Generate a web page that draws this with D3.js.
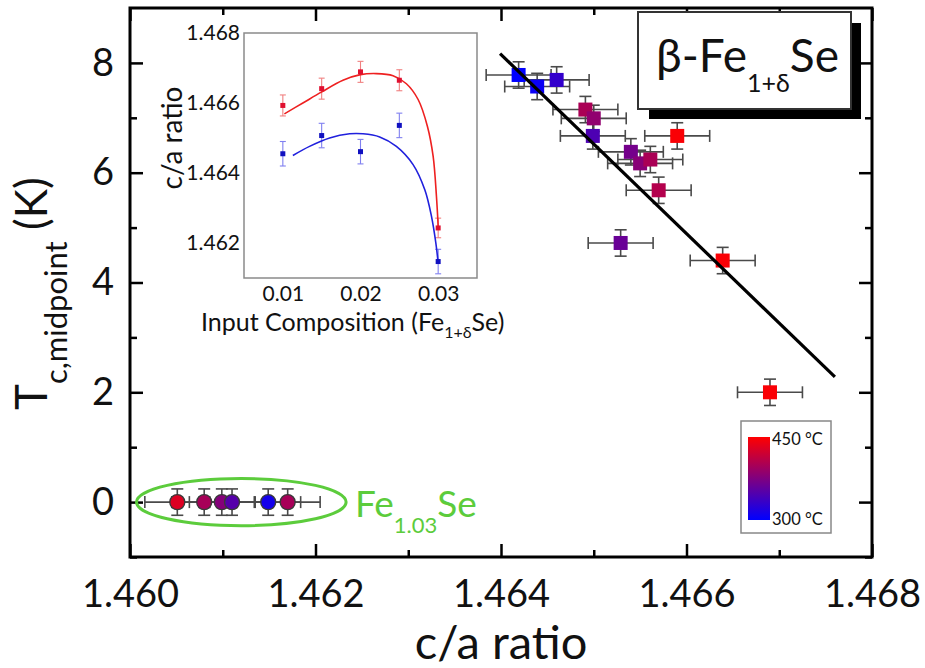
<!DOCTYPE html>
<html><head><meta charset="utf-8">
<script src="https://cdn.jsdelivr.net/npm/d3@7"></script>
<style>
html,body{margin:0;padding:0;background:#fff;}
svg{display:block;font-family:Lato,"Open Sans",sans-serif;}
</style></head>
<body>
<svg id="chart" width="925" height="668"></svg>
<script>
// ---------- data (main plot) ----------
const xTicksMain = [1.460, 1.462, 1.464, 1.466, 1.468];
const yTicksMain = [0, 2, 4, 6, 8];
// beta-Fe(1+d)Se squares
const sqCA   = [1.46419, 1.46439, 1.46460, 1.46491, 1.46500, 1.46499, 1.46590, 1.46540, 1.46550, 1.46561, 1.46570, 1.46529, 1.46639, 1.46690];
const sqTc   = [7.78, 7.57, 7.69, 7.15, 6.99, 6.67, 6.67, 6.38, 6.17, 6.24, 5.68, 4.72, 4.40, 2.00];
const sqTemp = [300, 306, 330, 400, 385, 345, 447, 368, 380, 400, 405, 362, 447, 447];
const sqCAerr = [0.00035,0.00035,0.00035,0.00035,0.00035,0.00035,0.00035,0.00035,0.00035,0.00035,0.00035,0.00035,0.00035,0.00035];
const sqTcErr = [0.24,0.24,0.24,0.24,0.24,0.24,0.24,0.24,0.24,0.24,0.24,0.24,0.24,0.24];
// Fe1.03Se circles
const ciCA   = [1.46051, 1.46080, 1.46099, 1.46110, 1.46149, 1.46170];
const ciTc   = [0, 0, 0, 0, 0, 0];
const ciTemp = [430, 398, 378, 350, 312, 398];
const ciCAerr = [0.00035,0.00035,0.00035,0.00035,0.00035,0.00035];
const ciTcErr = [0.24,0.24,0.24,0.24,0.24,0.24];
// linear fit
const fitCA = [1.46399, 1.46760];
const fitTc = [8.17, 2.28];
// ellipse around Fe1.03Se (data units)
const ellCA = [1.46007, 1.46233];
const ellTc = [-0.43, 0.43];
// colour scale
const tempRange = [300, 450];

// ---------- data (inset) ----------
const insetXTicks = [0.01, 0.02, 0.03];
const insetYTicks = [1.462, 1.464, 1.466, 1.468];
const insetComp = [0.010, 0.015, 0.020, 0.025, 0.030];
const insetRed  = [1.46593, 1.46641, 1.46689, 1.46665, 1.46243];
const insetBlue = [1.46455, 1.46507, 1.46461, 1.46536, 1.46147];
const insetRedErr  = [0.00030, 0.00030, 0.00030, 0.00030, 0.00028];
const insetBlueErr = [0.00035, 0.00035, 0.00035, 0.00035, 0.00035];
const redCurveX  = [0.0102, 0.01258, 0.01495, 0.01774, 0.0200, 0.02204, 0.02419, 0.02591, 0.02742, 0.02862, 0.02935, 0.02978, 0.0300];
const redCurveY  = [1.46569, 1.46600, 1.46631, 1.46665, 1.46681, 1.46684, 1.46678, 1.46655, 1.46610, 1.46533, 1.46448, 1.46333, 1.46248];
const blueCurveX = [0.01129, 0.01344, 0.01602, 0.0186, 0.02032, 0.02247, 0.02462, 0.02677, 0.02828, 0.02914, 0.0297, 0.0300];
const blueCurveY = [1.46450, 1.46476, 1.46500, 1.46512, 1.46512, 1.46503, 1.46476, 1.46424, 1.46352, 1.46276, 1.46200, 1.46143];

// ---------- layout ----------
const svg = d3.select("#chart");
const L = 130, R = 872, T = 8, B = 557;
const x = d3.scaleLinear().domain([1.460, 1.468]).range([L, R]);
const y = d3.scaleLinear().domain([-1, 9]).range([B, T]);
const col = d3.scaleLinear().domain(tempRange).range(["#0000ff", "#ff0000"]);
const FONT = 'Lato,"Open Sans",sans-serif';

// minor ticks
const xMinor = d3.range(1.461, 1.468, 0.002);
const yMinor = [-1, 1, 3, 5, 7];

function styleAxis(g){ g.select(".domain").remove(); g.selectAll("line").attr("stroke","#000").attr("stroke-width",2.5); }

// bottom
svg.append("g").attr("transform",`translate(0,${B})`)
  .call(d3.axisBottom(x).tickValues(xTicksMain).tickSize(-13).tickPadding(23).tickFormat(d3.format(".3f")))
  .call(styleAxis)
  .call(g=>g.selectAll("text").attr("font-size",38).attr("font-family",FONT).attr("fill","#111"));
svg.append("g").attr("transform",`translate(0,${B})`)
  .call(d3.axisBottom(x).tickValues(xMinor).tickSize(-7).tickFormat("")).call(styleAxis);
// top
svg.append("g").attr("transform",`translate(0,${T})`)
  .call(d3.axisTop(x).tickValues(xTicksMain).tickSize(-13).tickFormat("")).call(styleAxis);
svg.append("g").attr("transform",`translate(0,${T})`)
  .call(d3.axisTop(x).tickValues(xMinor).tickSize(-7).tickFormat("")).call(styleAxis);
// left
svg.append("g").attr("transform",`translate(${L},0)`)
  .call(d3.axisLeft(y).tickValues(yTicksMain).tickSize(-13).tickPadding(16))
  .call(styleAxis)
  .call(g=>g.selectAll("text").attr("font-size",38).attr("font-family",FONT).attr("fill","#111"));
svg.append("g").attr("transform",`translate(${L},0)`)
  .call(d3.axisLeft(y).tickValues(yMinor).tickSize(-7).tickFormat("")).call(styleAxis);
// right
svg.append("g").attr("transform",`translate(${R},0)`)
  .call(d3.axisRight(y).tickValues(yTicksMain).tickSize(-13).tickFormat("")).call(styleAxis);
svg.append("g").attr("transform",`translate(${R},0)`)
  .call(d3.axisRight(y).tickValues(yMinor).tickSize(-7).tickFormat("")).call(styleAxis);

// frame
svg.append("rect").attr("x",L).attr("y",T).attr("width",R-L).attr("height",B-T)
  .attr("fill","none").attr("stroke","#000").attr("stroke-width",3);

// axis titles
svg.append("text").attr("x",(L+R)/2).attr("y",659).attr("text-anchor","middle")
  .attr("font-size",47).attr("font-family",FONT).attr("fill","#111").text("c/a ratio");
const yt = svg.append("text").attr("transform","translate(47,410) rotate(-90)")
  .attr("font-family",FONT).attr("fill","#111");
yt.append("tspan").attr("font-size",44).text("T");
yt.append("tspan").attr("font-size",31).attr("dy",20).text("c,midpoint");
yt.append("tspan").attr("font-size",44).attr("dy",-20).text(" (K)");

// ---------- error bars ----------
function errorBars(g, xs, ys, xe, ye, sx, sy, stroke, sw, cap){
  xs.forEach((cx,i)=>{
    const px = sx(cx), py = sy(ys[i]);
    const x0 = sx(cx - xe[i]), x1 = sx(cx + xe[i]);
    const y0 = sy(ys[i] - ye[i]), y1 = sy(ys[i] + ye[i]);
    const gg = g.append("g").attr("stroke",stroke).attr("stroke-width",sw).attr("fill","none");
    if (xe[i] > 0){
      gg.append("line").attr("x1",x0).attr("x2",x1).attr("y1",py).attr("y2",py);
      gg.append("line").attr("x1",x0).attr("x2",x0).attr("y1",py-cap).attr("y2",py+cap);
      gg.append("line").attr("x1",x1).attr("x2",x1).attr("y1",py-cap).attr("y2",py+cap);
    }
    gg.append("line").attr("x1",px).attr("x2",px).attr("y1",y0).attr("y2",y1);
    gg.append("line").attr("x1",px-cap).attr("x2",px+cap).attr("y1",y0).attr("y2",y0);
    gg.append("line").attr("x1",px-cap).attr("x2",px+cap).attr("y1",y1).attr("y2",y1);
  });
}
const gErr = svg.append("g");
errorBars(gErr, sqCA, sqTc, sqCAerr, sqTcErr, x, y, "#4a4a4a", 1.6, 6);
errorBars(gErr, ciCA, ciTc, ciCAerr, ciTcErr, x, y, "#4a4a4a", 1.6, 6);

// squares
const sqSize = 14;
svg.append("g").selectAll("rect").data(sqCA).join("rect")
  .attr("x",(d)=>x(d)-sqSize/2).attr("y",(d,i)=>y(sqTc[i])-sqSize/2)
  .attr("width",sqSize).attr("height",sqSize)
  .attr("fill",(d,i)=>col(sqTemp[i]));
// circles
svg.append("g").selectAll("circle").data(ciCA).join("circle")
  .attr("cx",d=>x(d)).attr("cy",(d,i)=>y(ciTc[i])).attr("r",7.5)
  .attr("fill",(d,i)=>col(ciTemp[i])).attr("stroke","#3a3a3a").attr("stroke-width",1.4);

// fit line
svg.append("line").attr("x1",x(fitCA[0])).attr("y1",y(fitTc[0]))
  .attr("x2",x(fitCA[1])).attr("y2",y(fitTc[1]))
  .attr("stroke","#000").attr("stroke-width",3.2);

// ellipse
svg.append("ellipse")
  .attr("cx",x((ellCA[0]+ellCA[1])/2)).attr("cy",y((ellTc[0]+ellTc[1])/2))
  .attr("rx",(x(ellCA[1])-x(ellCA[0]))/2).attr("ry",(y(ellTc[0])-y(ellTc[1]))/2)
  .attr("fill","none").attr("stroke","#5ccc3c").attr("stroke-width",3);
// Fe1.03Se label
const fe = svg.append("text").attr("x",355).attr("y",517).attr("font-family",FONT).attr("fill","#5ccc3c");
fe.append("tspan").attr("font-size",37).text("Fe");
fe.append("tspan").attr("font-size",22).attr("dy",16).text("1.03");
fe.append("tspan").attr("font-size",37).attr("dy",-16).text("Se");

// title box
svg.append("rect").attr("x",649).attr("y",23).attr("width",212).attr("height",96).attr("fill","#000");
svg.append("rect").attr("x",638).attr("y",12).attr("width",213).attr("height",97)
  .attr("fill","#fff").attr("stroke","#333").attr("stroke-width",2);
const tt = svg.append("text").attr("x",656).attr("y",72).attr("font-family",FONT).attr("fill","#111");
tt.append("tspan").attr("font-size",46).text("β-Fe");
tt.append("tspan").attr("font-size",25).attr("dy",20).text("1+δ");
tt.append("tspan").attr("font-size",46).attr("dy",-20).text("Se");

// colour legend
const defs = svg.append("defs");
const grad = defs.append("linearGradient").attr("id","tgrad").attr("x1",0).attr("x2",0).attr("y1",0).attr("y2",1);
grad.append("stop").attr("offset","0%").attr("stop-color",col(tempRange[1]));
grad.append("stop").attr("offset","100%").attr("stop-color",col(tempRange[0]));
svg.append("rect").attr("x",741).attr("y",421).attr("width",90).attr("height",112)
  .attr("fill","#fff").attr("stroke","#888").attr("stroke-width",1.5);
svg.append("rect").attr("x",748).attr("y",437).attr("width",22).attr("height",83).attr("fill","url(#tgrad)");
svg.append("text").attr("x",772).attr("y",445).attr("font-size",16.5).attr("font-family",FONT).attr("fill","#111").text(tempRange[1]+" °C");
svg.append("text").attr("x",772).attr("y",525).attr("font-size",16.5).attr("font-family",FONT).attr("fill","#111").text(tempRange[0]+" °C");

// ---------- inset ----------
const iL = 244, iR = 477, iT = 33, iB = 278;
const ix = d3.scaleLinear().domain([0.005, 0.035]).range([iL, iR]);
const iy = d3.scaleLinear().domain([1.461, 1.468]).range([iB, iT]);
svg.append("rect").attr("x",iL).attr("y",iT).attr("width",iR-iL).attr("height",iB-iT)
  .attr("fill","#fff").attr("stroke","#8a8a8a").attr("stroke-width",1.5);
svg.append("g").attr("transform",`translate(0,${iB})`)
  .call(d3.axisBottom(ix).tickValues(insetXTicks).tickSize(0).tickPadding(8).tickFormat(d3.format(".2f")))
  .call(g=>g.select(".domain").remove())
  .call(g=>g.selectAll("text").attr("font-size",21).attr("font-family",FONT).attr("fill","#111"));
svg.append("g").attr("transform",`translate(${iL},0)`)
  .call(d3.axisLeft(iy).tickValues(insetYTicks).tickSize(0).tickPadding(4).tickFormat(d3.format(".3f")))
  .call(g=>g.select(".domain").remove())
  .call(g=>g.selectAll("text").attr("font-size",21).attr("font-family",FONT).attr("fill","#111"));
svg.append("text").attr("transform","translate(182,138) rotate(-90)").attr("text-anchor","middle")
  .attr("font-size",28).attr("font-family",FONT).attr("fill","#111").text("c/a ratio");
const ixt = svg.append("text").attr("x",201).attr("y",331).attr("font-family",FONT).attr("fill","#111");
ixt.append("tspan").attr("font-size",25).text("Input Composition (Fe");
ixt.append("tspan").attr("font-size",16).attr("dy",7).text("1+δ");
ixt.append("tspan").attr("font-size",25).attr("dy",-7).text("Se)");

const zeros = insetComp.map(()=>0);
const gIE = svg.append("g");
errorBars(gIE, insetComp, insetRed, zeros, insetRedErr, ix, iy, "#f08080", 1.1, 3);
errorBars(gIE, insetComp, insetBlue, zeros, insetBlueErr, ix, iy, "#8080f0", 1.1, 3);
const line = d3.line().curve(d3.curveCatmullRom.alpha(0.5));
svg.append("path").attr("d",line(redCurveX.map((d,i)=>[ix(d),iy(redCurveY[i])])))
  .attr("fill","none").attr("stroke","#ee2020").attr("stroke-width",1.6);
svg.append("path").attr("d",line(blueCurveX.map((d,i)=>[ix(d),iy(blueCurveY[i])])))
  .attr("fill","none").attr("stroke","#2020dd").attr("stroke-width",1.6);
svg.append("g").selectAll("rect").data(insetComp).join("rect")
  .attr("x",d=>ix(d)-2.5).attr("y",(d,i)=>iy(insetRed[i])-2.5).attr("width",5).attr("height",5).attr("fill","#e01030");
svg.append("g").selectAll("rect").data(insetComp).join("rect")
  .attr("x",d=>ix(d)-2.5).attr("y",(d,i)=>iy(insetBlue[i])-2.5).attr("width",5).attr("height",5).attr("fill","#1010c0");
</script>
</body></html>
